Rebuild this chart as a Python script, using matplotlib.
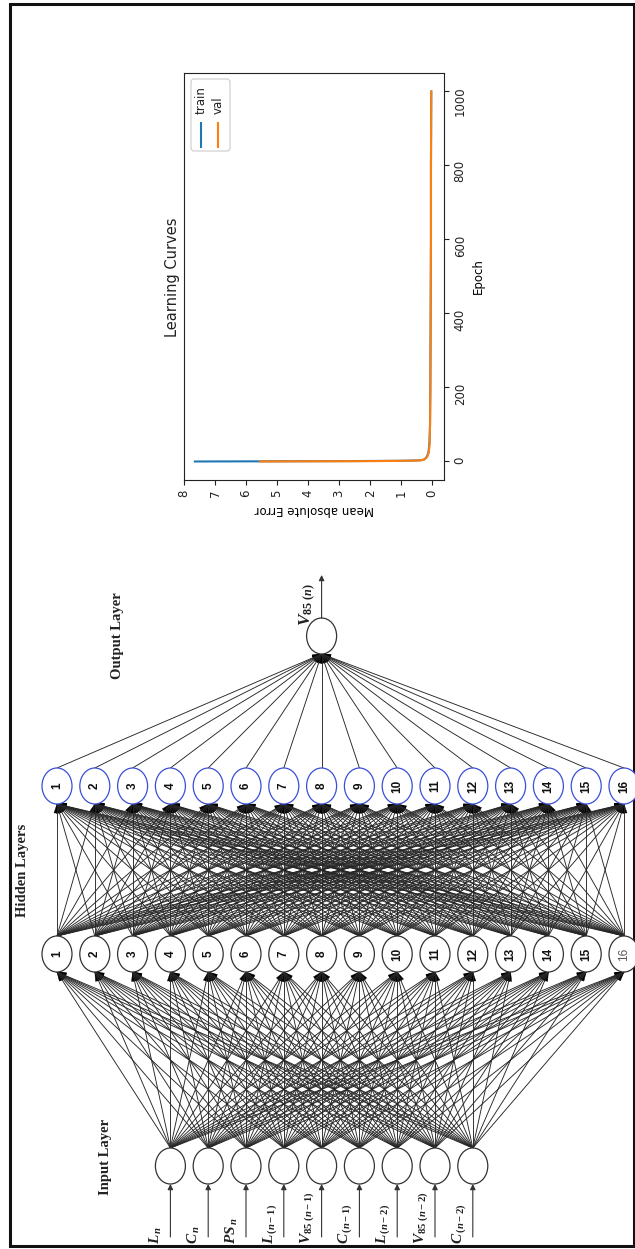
import numpy as np
import matplotlib
matplotlib.use("Agg")
import matplotlib.pyplot as plt
from matplotlib.patches import Ellipse, Polygon, FancyBboxPatch, Rectangle
from matplotlib.collections import LineCollection, PatchCollection

plt.rcParams['mathtext.fontset'] = 'custom'
plt.rcParams['mathtext.it'] = 'Liberation Serif:italic:bold'
plt.rcParams['mathtext.rm'] = 'Liberation Serif:bold'
plt.rcParams['mathtext.fallback'] = 'stix'

W, H, DPI = 635, 1249, 100

# ---- network description ----
input_labels = [r'$L_{\,n}$', r'$C_{\,n}$', r'$PS_{\,n}$',
                r'$L_{\,(n-1)}$', r'$V_{85\ (n-1)}$', r'$C_{\,(n-1)}$',
                r'$L_{\,(n-2)}$', r'$V_{85\ (n-2)}$', r'$C_{\,(n-2)}$']
hidden_sizes = [16, 16]
output_label = r'$V_{85\ (n)}$'
layer_titles = ['Input Layer', 'Hidden Layers', 'Output Layer']

# ---- training history ----
epochs = [0, 1, 2, 3, 4, 6, 10, 15, 25, 50, 100, 200, 400, 600, 800, 999]
train_mae = [7.65, 2.8, 0.9, 0.45, 0.32, 0.25, 0.20, 0.16, 0.12, 0.09, 0.07,
             0.06, 0.05, 0.04, 0.04, 0.03]
val_mae = [5.55, 1.9, 0.7, 0.40, 0.30, 0.24, 0.19, 0.15, 0.11, 0.08, 0.07,
           0.06, 0.05, 0.04, 0.04, 0.03]
mae_ticks = [0, 1, 2, 3, 4, 5, 6, 7, 8]
epoch_ticks = [0, 200, 400, 600, 800, 1000]

TRAIN_C, VAL_C = '#1f77b4', '#ff7f0e'

fig = plt.figure(figsize=(W / DPI, H / DPI), dpi=DPI)

# ---- learning-curve panel (turned on its side) ----
ax_lc = fig.add_axes([184 / W, 1 - 480 / H, (444 - 184) / W, (480 - 73) / H])
ax_lc.plot(train_mae, epochs, color=TRAIN_C, lw=1.5)
ax_lc.plot(val_mae, epochs, color=VAL_C, lw=1.5)
ax_lc.set_xlim(8.0, -0.38)
ax_lc.set_ylim(-50, 1049)
ax_lc.yaxis.tick_right()
ax_lc.yaxis.set_label_position('right')
ax_lc.set_xticks(mae_ticks)
ax_lc.set_yticks(epoch_ticks)
ax_lc.tick_params(labelsize=8.5, labelrotation=90, width=0.8, length=3.5,
                  colors='#222222')
for sp in ax_lc.spines.values():
    sp.set_linewidth(0.8)
    sp.set_color('#222222')
ax_lc.set_xlabel('Mean absolute Error', rotation=180, fontsize=8.5)
ax_lc.set_ylabel('Epoch', rotation=90, fontsize=8.5)

# ---- network diagram overlay in pixel units ----
net = fig.add_axes([0, 0, 1, 1], zorder=5)
net.set_xlim(0, W)
net.set_ylim(H, 0)
net.axis('off')
net.patch.set_alpha(0)

# outer frame
net.add_patch(Rectangle((10, 4), 624, 1242, fill=False, lw=2.2, ec='#111111'))

# title of the learning-curve panel
net.text(172, 277, 'Learning Curves', rotation=90, ha='center', va='center',
         fontsize=10.5, color='#222222')

# legend of the learning-curve panel
net.add_patch(FancyBboxPatch((191, 79), 39, 72,
                             boxstyle='round,pad=0,rounding_size=3',
                             ec='#cccccc', fc='white', lw=0.8))
for lx, name, col in [(201, 'train', TRAIN_C), (218, 'val', VAL_C)]:
    net.plot([lx, lx], [122, 148], color=col, lw=1.5, solid_capstyle='butt')
    net.text(lx, 114, name, rotation=90, rotation_mode='anchor', ha='left',
             va='center', fontsize=8.5, color='#222222')

# node layout
pitch = 37.8
x0_hidden = 57.0
node_w, node_h = 30, 36
hidden_x = x0_hidden + pitch * np.arange(hidden_sizes[0])
input_x = hidden_x[3] + pitch * np.arange(len(input_labels))
out_x = hidden_x[7]
y_in, y_h1, y_h2, y_out = 1166, 954, 786, 636

EDGE_C = '#262626'


def arrow_head(src, dst, length=9.0, half=3.0):
    s, d = np.asarray(src, float), np.asarray(dst, float)
    u = (d - s) / np.hypot(*(d - s))
    p = np.array([-u[1], u[0]])
    base = d - length * u
    return [d, base + half * p, base - half * p]


def connect(xs_src, y_src, xs_dst, y_dst):
    segs, heads = [], []
    for xs in xs_src:
        for xd in xs_dst:
            segs.append([(xs, y_src), (xd, y_dst)])
            heads.append(Polygon(arrow_head((xs, y_src), (xd, y_dst)), closed=True))
    net.add_collection(LineCollection(segs, colors=EDGE_C, linewidths=0.65))
    net.add_collection(PatchCollection(heads, facecolor='black', edgecolor='black',
                                       linewidths=0.3))


connect(input_x, y_in - node_h / 2, hidden_x, y_h1 + node_h / 2)
connect(hidden_x, y_h1 - node_h / 2, hidden_x, y_h2 + node_h / 2)
connect(hidden_x, y_h2 - node_h / 2, [out_x], y_out + node_h / 2)


def node(x, y, ec='#333333'):
    net.add_patch(Ellipse((x, y), node_w, node_h, fc='white', ec=ec, lw=0.9, zorder=3))


# input layer with incoming arrows and labels
for x, lab in zip(input_x, input_labels):
    node(x, y_in)
    net.annotate('', xy=(x, y_in + node_h / 2), xytext=(x, 1237),
                 arrowprops=dict(arrowstyle='-|>', color='#333333', lw=0.8,
                                 mutation_scale=8, shrinkA=0, shrinkB=0))
    net.text(x - 14, 1244, lab, rotation=90, rotation_mode='anchor', ha='left',
             va='center', fontsize=11, color='#222222')

# hidden layers
for i, x in enumerate(hidden_x):
    node(x, y_h1)
    last = i == len(hidden_x) - 1
    net.text(x, y_h1, str(i + 1), rotation=90, ha='center', va='center',
             family='Liberation Sans', fontsize=8.5,
             fontweight='normal' if last else 'bold',
             color='#555555' if last else '#111111', zorder=4)
    node(x, y_h2, ec='#3a4fd6')
    net.text(x, y_h2, str(i + 1), rotation=90, ha='center', va='center',
             family='Liberation Sans', fontsize=8.5, fontweight='bold',
             color='#111111', zorder=4)

# output node
node(out_x, y_out)
net.annotate('', xy=(out_x, 575), xytext=(out_x, y_out - node_h / 2),
             arrowprops=dict(arrowstyle='-|>', color='#333333', lw=0.8,
                             mutation_scale=8, shrinkA=0, shrinkB=0))
net.text(out_x - 14, 626, output_label, rotation=90, rotation_mode='anchor',
         ha='left', va='center', fontsize=12.5, color='#222222')

# layer titles
for (tx, ty), title in zip([(106, 1157), (23, 870), (118, 636)], layer_titles):
    net.text(tx, ty, title, rotation=90, ha='center', va='center',
             family='Liberation Serif', fontweight='bold', fontsize=10.5,
             color='#222222')

fig.savefig('out.png', dpi=DPI)
